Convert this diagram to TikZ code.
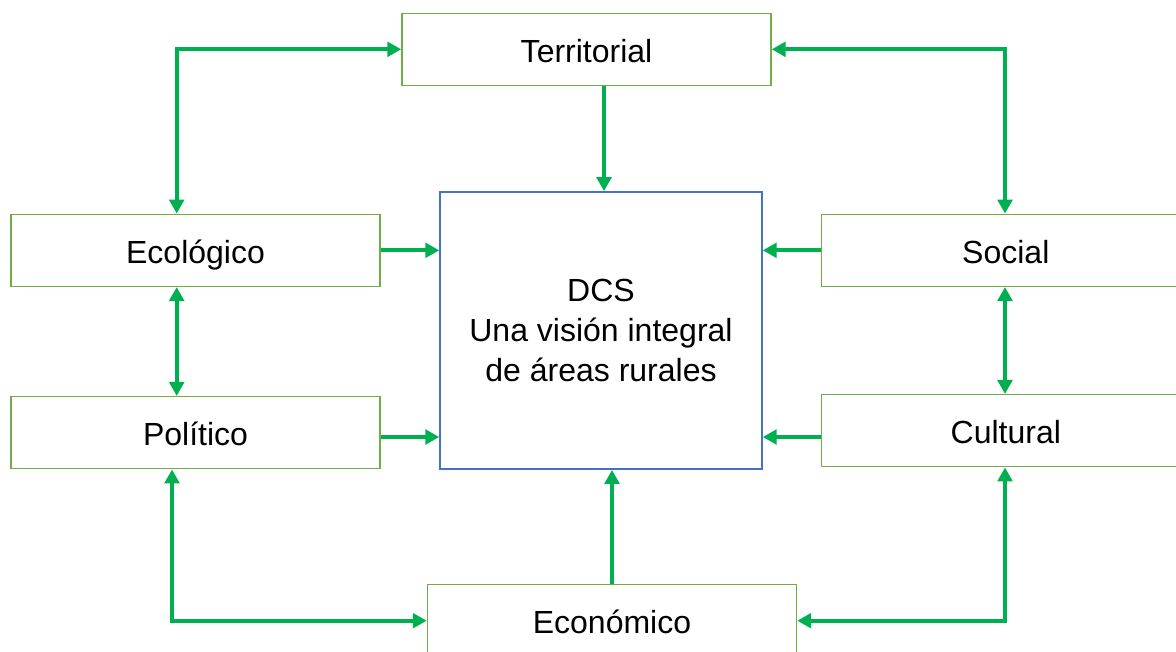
\documentclass[tikz,border=0pt]{standalone}
\usepackage{fontspec}
\setmainfont{Liberation Sans}
\usetikzlibrary{arrows.meta}
\definecolor{boxgreen}{HTML}{70AD47}
\definecolor{arrgreen}{HTML}{00B050}
\definecolor{dcsblue}{HTML}{4472C4}
\begin{document}
\begin{tikzpicture}[x=0.75pt,y=-0.75pt,
  gbox/.style={draw=boxgreen,line width=1.1pt,fill=white,minimum width=276.75pt,minimum height=54pt,inner sep=0pt,text height=19.2pt,text depth=0pt,font=\fontsize{24}{30}\selectfont},
  cbox/.style={draw=dcsblue,line width=1.1pt,fill=white,minimum width=241.5pt,minimum height=208pt,inner sep=0pt,align=center,font=\fontsize{24}{30}\selectfont},
  arr/.style={draw=arrgreen,line width=3pt,-{Triangle[length=10.5pt,width=11pt]}},
  darr/.style={draw=arrgreen,line width=3pt,{Triangle[length=10.5pt,width=11pt]}-{Triangle[length=10.5pt,width=11pt]}}
]
\useasboundingbox (0,0) rectangle (1176,651);
\node[gbox] (terr) at (586.5,49.3) {Territorial};
\node[gbox] (eco) at (195.5,250.3) {Ecológico};
\node[gbox] (pol) at (195.5,432.7) {Político};
\node[gbox] (soc) at (1005.8,250.3) {Social};
\node[gbox] (cul) at (1005.8,430.7) {Cultural};
\node[gbox] (econ) at (612,620.7) {Económico};
\node[cbox] (dcs) at (601,330.5) {DCS\\Una visión integral\\de áreas rurales};
\coordinate (xL) at (176.7,0);
\coordinate (xLb) at (172,0);
\coordinate (xR) at (1005,0);
\coordinate (xT) at (604,0);
\coordinate (yP) at (0,437);
% into DCS
\draw[arr] (terr.south -| xT) -- (dcs.north -| xT);
\draw[arr] (eco.east) -- (eco.east -| dcs.west);
\draw[arr] (pol.east |- yP) -- (dcs.west |- yP);
\draw[arr] (soc.west) -- (soc.west -| dcs.east);
\draw[arr] (cul.west |- yP) -- (dcs.east |- yP);
\draw[arr] (econ.north) -- (econ.north |- dcs.south);
% outer ring
\draw[darr] (eco.north -| xL) |- (terr.west);
\draw[darr] (soc.north -| xR) |- (terr.east);
\draw[darr] (eco.south -| xL) -- (pol.north -| xL);
\draw[darr] (soc.south -| xR) -- (cul.north -| xR);
\draw[darr] (pol.south -| xLb) |- (econ.west);
\draw[darr] (cul.south -| xR) |- (econ.east);
\end{tikzpicture}
\end{document}
